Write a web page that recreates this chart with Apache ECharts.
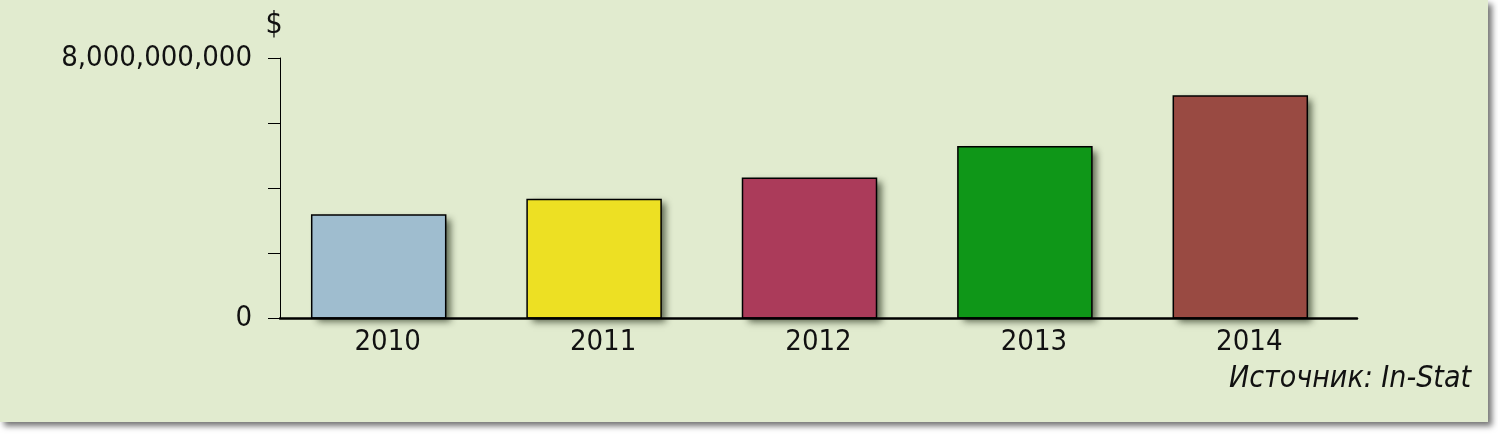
<!DOCTYPE html>
<html>
<head>
<meta charset="utf-8">
<script src="https://cdn.jsdelivr.net/npm/echarts@6/dist/echarts.min.js"></script>
<style>
  html, body { margin: 0; padding: 0; background: #ffffff; }
  #panel {
    position: absolute; left: 0; top: 0;
    width: 1488px; height: 422px;
    background: #e1ebcf;
    box-shadow: 4px 4px 6px rgba(0, 0, 0, 0.55);
  }
  #chart { position: absolute; left: 0; top: 0; width: 1498px; height: 434px; }
</style>
</head>
<body>
<div id="panel"></div>
<div id="chart"></div>
<script>
var years = ['2010', '2011', '2012', '2013', '2014'];
var revenue = [3170000000, 3650000000, 4300000000, 5270000000, 6830000000];
var barColors = ['#9fbdcf', '#ede023', '#ab3b5a', '#0f9718', '#994a42'];
var yTicks = [0, 8000000000];
var source = 'Источник: In-Stat';

var font = '"Liberation Sans Narrow", "Arial Narrow", "DejaVu Sans Condensed", sans-serif';
var barW = 134;
var barShift = -9; // bars sit a little left of the category centre

function renderBar(params, api) {
    var i = api.value(0);
    var top = api.coord([i, api.value(1)]);
    var base = api.coord([i, 0]);
    var x = top[0] - barW / 2 + barShift;
    var h = base[1] - top[1];
    return {
        type: 'group',
        children: [
            {
                type: 'rect',
                shape: { x: x, y: top[1], width: barW, height: h },
                style: {
                    fill: barColors[i],
                    shadowBlur: 7,
                    shadowOffsetX: 5,
                    shadowOffsetY: 4,
                    shadowColor: 'rgba(20, 30, 10, 0.65)'
                }
            },
            {
                type: 'rect',
                shape: { x: x, y: top[1], width: barW, height: h },
                style: { fill: null, stroke: '#000', lineWidth: 1.5 }
            }
        ]
    };
}

var option = {
    animation: false,
    textStyle: { fontFamily: font },
    title: {
        text: source,
        right: 27,
        top: 364,
        padding: 0,
        textStyle: { fontFamily: font, fontStyle: 'italic', fontWeight: 'normal', fontSize: 30, color: '#111' }
    },
    grid: { left: 280, right: 141, top: 58, bottom: 116 },
    xAxis: {
        type: 'category',
        data: years,
        z: 5,
        axisLine: { lineStyle: { color: '#000', width: 2.5 } },
        axisTick: { length: 4, lineStyle: { color: '#000', width: 1 } },
        axisLabel: { color: '#111', fontSize: 29, margin: 10, fontFamily: font }
    },
    yAxis: {
        type: 'value',
        min: 0,
        max: 8000000000,
        interval: 2000000000,
        name: '$',
        nameLocation: 'end',
        nameGap: 18,
        nameTextStyle: { color: '#111', fontSize: 30, fontFamily: font, padding: [0, 12, 0, 0] },
        axisLine: { show: true, lineStyle: { color: '#000', width: 1 } },
        axisTick: { show: true, length: 12, lineStyle: { color: '#000', width: 1 } },
        splitLine: { show: false },
        axisLabel: {
            color: '#111', fontSize: 29, margin: 28, fontFamily: font,
            formatter: function (v) {
                return yTicks.indexOf(v) >= 0 ? v.toLocaleString('en-US') : '';
            }
        }
    },
    series: [
        {
            name: 'Выручка',
            type: 'custom',
            renderItem: renderBar,
            encode: { x: 0, y: 1 },
            data: revenue.map(function (v, i) { return [i, v]; }),
            z: 1
        }
    ]
};

var myChart = echarts.init(document.getElementById('chart'));
myChart.setOption(option);
</script>
</body>
</html>
